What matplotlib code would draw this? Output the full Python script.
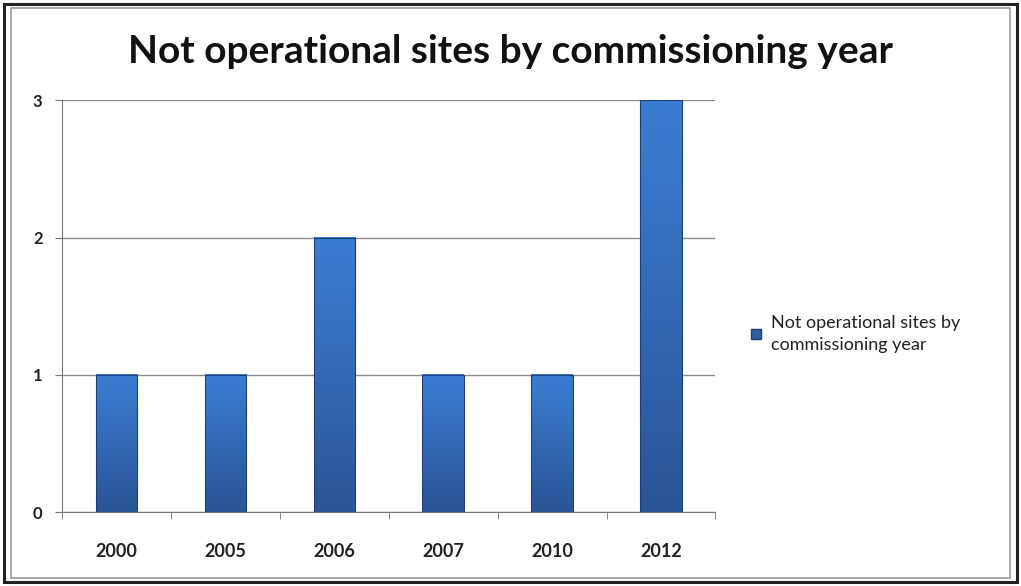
import numpy as np
import matplotlib.pyplot as plt
from matplotlib.colors import LinearSegmentedColormap
from matplotlib.patches import Rectangle
from matplotlib.lines import Line2D

years = ['2000', '2005', '2006', '2007', '2010', '2012']
sites = [1, 1, 2, 1, 1, 3]
series_name = 'Not operational sites by\ncommissioning year'
title = 'Not operational sites by commissioning year'

plt.rcParams['font.family'] = ['Lato', 'DejaVu Sans']

fig = plt.figure(figsize=(10.21, 5.86), dpi=100)

# outer frame with shadow
fig.patches.append(Rectangle((0.004, 0.006), 0.992, 0.988, transform=fig.transFigure,
                             fill=False, edgecolor='#222222', linewidth=2.2))
fig.patches.append(Rectangle((0.011, 0.014), 0.978, 0.972, transform=fig.transFigure,
                             fill=False, edgecolor='#9a9a9a', linewidth=1.2))

ax = fig.add_axes([0.0607, 0.126, 0.640, 0.703])
x = np.arange(len(years))
bars = ax.bar(x, sites, width=0.38, color='none', edgecolor='#1f3f73', linewidth=0.8, zorder=3)

# vertical gradient inside each bar, lighter on top
cmap = LinearSegmentedColormap.from_list('bar', ['#2a5596', '#3b7dd3'])
grad = np.linspace(0, 1, 256).reshape(-1, 1)
for b in bars:
    x0, y0 = b.get_x(), b.get_y()
    ax.imshow(grad, cmap=cmap, origin='lower', aspect='auto', zorder=2,
              extent=(x0, x0 + b.get_width(), y0, y0 + b.get_height()))

ax.set_xlim(-0.5, len(years) - 0.5)
ax.set_ylim(0, 3)
ax.set_yticks([0, 1, 2, 3])
ax.yaxis.grid(True, color='#8c8c8c', linewidth=1.0)
ax.set_axisbelow(True)

ax.set_xticks(x)
ax.set_xticklabels(years, fontsize=13, fontweight='bold', color='#222222')
ax.tick_params(axis='x', length=0, pad=22)
ax.set_xticks(np.arange(-0.5, len(years)), minor=True)
ax.tick_params(axis='x', which='minor', length=5, color='#777777', direction='out')
ax.tick_params(axis='y', labelsize=12, length=5, color='#777777', pad=9,
               labelcolor='#222222')
for lab in ax.get_yticklabels():
    lab.set_fontweight('bold')

for s in ['top', 'right']:
    ax.spines[s].set_visible(False)
ax.spines['left'].set_color('#777777')
ax.spines['bottom'].set_color('#777777')

fig.text(0.5, 0.912, title, ha='center', va='center', fontsize=28, fontweight='bold',
         color='#111111')

handle = Line2D([], [], marker='s', linestyle='none', markersize=7,
                markerfacecolor='#2f5f9f', markeredgecolor='#1f3f73')
fig.legend([handle], [series_name], loc='center left', bbox_to_anchor=(0.716, 0.43),
           frameon=False, fontsize=13, handletextpad=0.3, handlelength=1.0,
           labelcolor='#222222', labelspacing=0.8)
for t in fig.legends[0].get_texts():
    t.set_linespacing(1.5)

fig.savefig('out.png', dpi=100)
